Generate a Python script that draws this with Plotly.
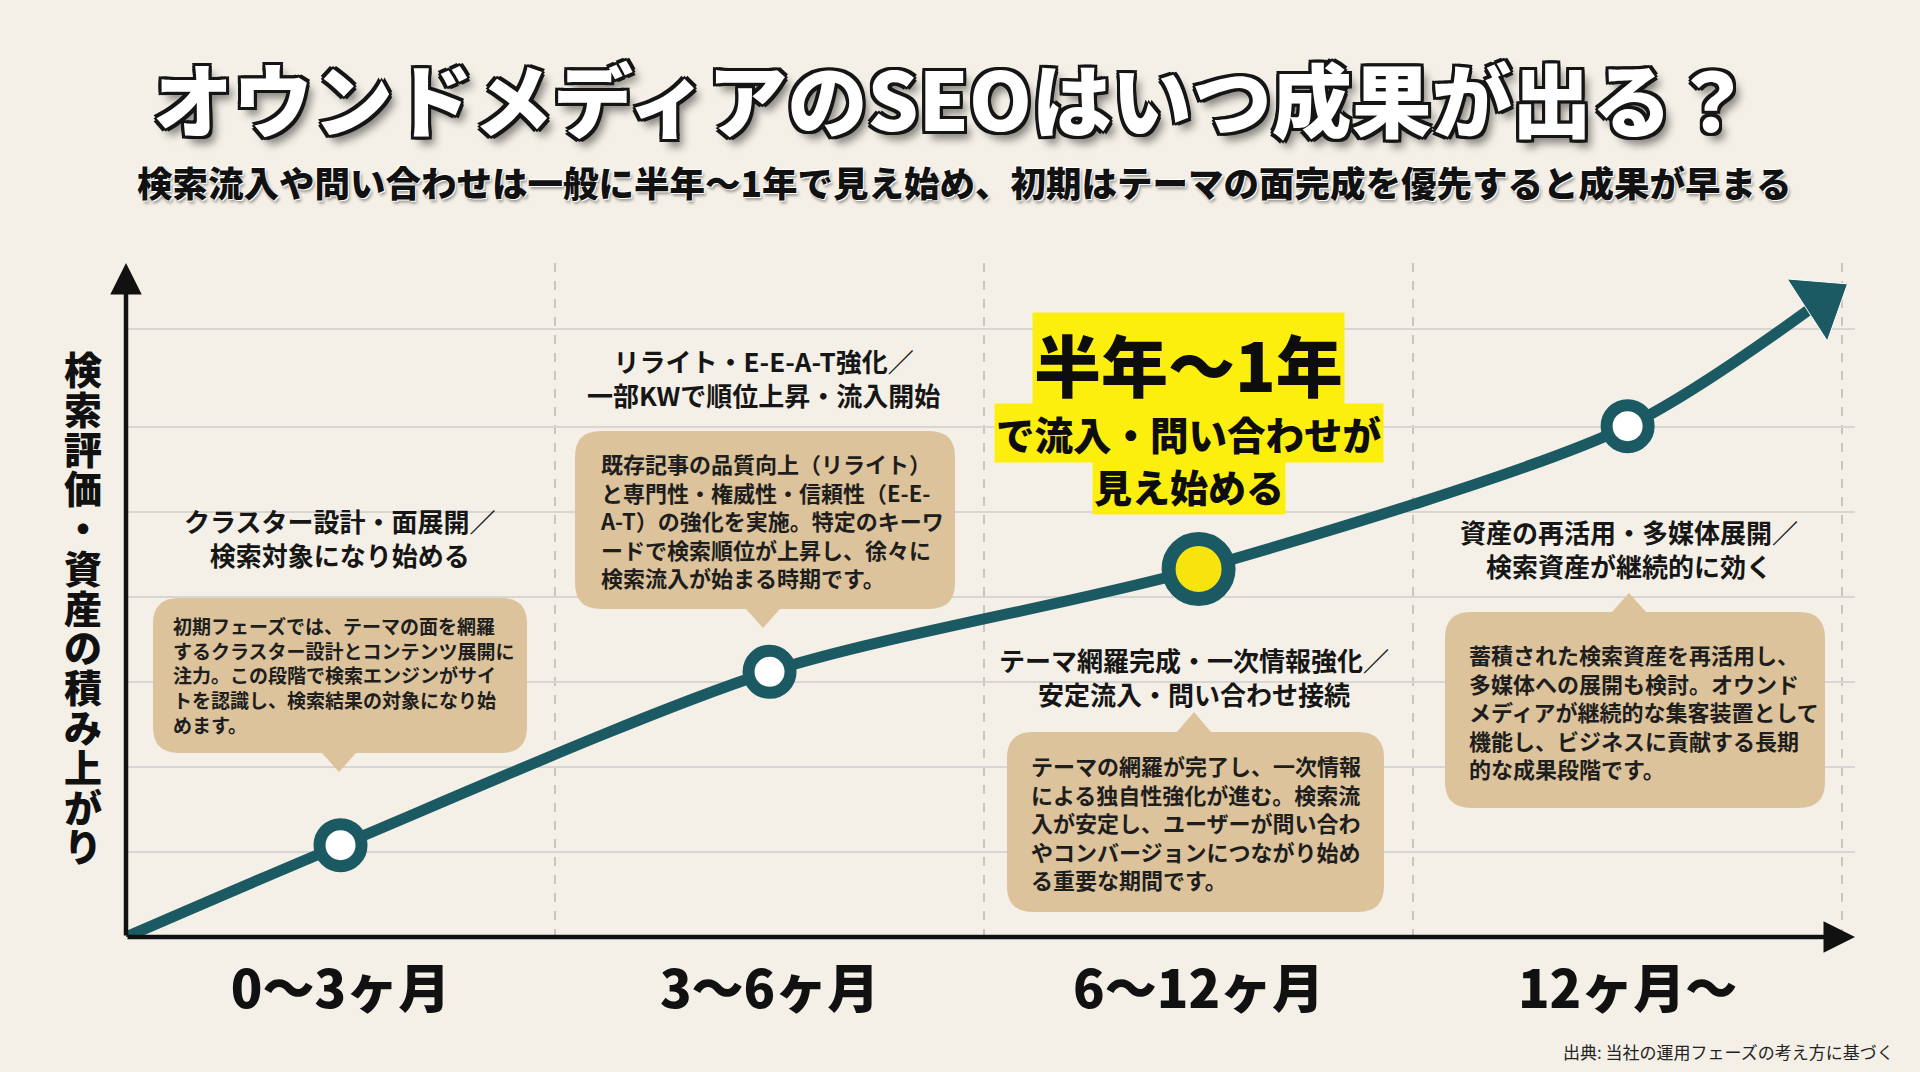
import plotly.graph_objects as go

# ---- data ----
phase_labels = ["0〜3ヶ月", "3〜6ヶ月", "6〜12ヶ月", "12ヶ月〜"]
phase_x = [0.5, 1.5, 2.5, 3.5]
milestone_y = [1.08, 3.12, 4.33, 6.01]
curve_x = [0, 0.5, 1.5, 2.5, 3.5, 3.95]
curve_y = [0, 1.08, 3.12, 4.33, 6.01, 7.48]
highlight_idx = 2

headings = [
    "クラスター設計・面展開／<br>検索対象になり始める",
    "リライト・E-E-A-T強化／<br>一部KWで順位上昇・流入開始",
    "テーマ網羅完成・一次情報強化／<br>安定流入・問い合わせ接続",
    "資産の再活用・多媒体展開／<br>検索資産が継続的に効く",
]
descriptions = [
    "初期フェーズでは、テーマの面を網羅<br>するクラスター設計とコンテンツ展開に<br>注力。この段階で検索エンジンがサイ<br>トを認識し、検索結果の対象になり始<br>めます。",
    "既存記事の品質向上（リライト）<br>と専門性・権威性・信頼性（E-E-<br>A-T）の強化を実施。特定のキーワ<br>ードで検索順位が上昇し、徐々に<br>検索流入が始まる時期です。",
    "テーマの網羅が完了し、一次情報<br>による独自性強化が進む。検索流<br>入が安定し、ユーザーが問い合わ<br>やコンバージョンにつながり始め<br>る重要な期間です。",
    "蓄積された検索資産を再活用し、<br>多媒体への展開も検討。オウンド<br>メディアが継続的な集客装置として<br>機能し、ビジネスに貢献する長期<br>的な成果段階です。",
]
y_title = "検索評価・資産の積み上がり"

W, H = 1920, 1072
FONT = "Noto Sans CJK JP"
TEAL = "#1b5a63"
TAN = "#dcc39b"
BG = "#f4f0e7"


def px(x):
    return x / W


def py(y):
    return 1 - y / H


def P(x, y):
    return "%.5f,%.5f" % (px(x), py(y))


def bubble(x0, y0, x1, y1, tip_x, tip_y, side, r=26, hw=17):
    s = "M" + P(x0 + r, y0)
    if side == "up":
        s += " L" + P(tip_x - hw, y0) + " L" + P(tip_x, tip_y) + " L" + P(tip_x + hw, y0)
    s += " L" + P(x1 - r, y0) + " Q" + P(x1, y0) + " " + P(x1, y0 + r)
    s += " L" + P(x1, y1 - r) + " Q" + P(x1, y1) + " " + P(x1 - r, y1)
    if side == "down":
        s += " L" + P(tip_x + hw, y1) + " L" + P(tip_x, tip_y) + " L" + P(tip_x - hw, y1)
    s += " L" + P(x0 + r, y1) + " Q" + P(x0, y1) + " " + P(x0, y1 - r)
    s += " L" + P(x0, y0 + r) + " Q" + P(x0, y0) + " " + P(x0 + r, y0) + " Z"
    return s


fig = go.Figure()

# growth curve
fig.add_trace(go.Scatter(
    x=curve_x, y=curve_y, mode="lines",
    line=dict(color=TEAL, width=11, shape="spline", smoothing=0.8),
    hoverinfo="skip", showlegend=False))

# arrow head at the end of the curve
fig.add_trace(go.Scatter(
    x=curve_x[-2:], y=curve_y[-2:], mode="markers",
    marker=dict(symbol="triangle-up", size=[0, 64], color=TEAL, angleref="previous", opacity=1),
    hoverinfo="skip", showlegend=False))

# milestone markers
fills = ["#ffffff"] * len(phase_x)
fills[highlight_idx] = "#f7e40f"
sizes = [42] * len(phase_x)
sizes[highlight_idx] = 60
lws = [12] * len(phase_x)
lws[highlight_idx] = 14
fig.add_trace(go.Scatter(
    x=phase_x, y=milestone_y, mode="markers",
    marker=dict(size=sizes, color=fills, opacity=1, line=dict(color=TEAL, width=lws)),
    hoverinfo="skip", showlegend=False))

shapes = []
annotations = []

# callout boxes (pixel positions)
boxes = [
    (153, 598, 527, 753, 339, 772, "down", 171, 675, 19),
    (575, 431, 955, 609, 763, 628, "down", 598, 520, 22),
    (1007, 732, 1384, 912, 1194, 712, "up", 1029, 822, 22),
    (1445, 612, 1825, 808, 1629, 593, "up", 1467, 711, 22),
]
for i, (x0, y0, x1, y1, tx, ty, side, txt_x, txt_y, fs) in enumerate(boxes):
    shapes.append(dict(type="path", xref="paper", yref="paper",
                       path=bubble(x0, y0, x1, y1, tx, ty, side),
                       fillcolor=TAN, line=dict(width=0), layer="above"))
    annotations.append(dict(xref="paper", yref="paper", x=px(txt_x), y=py(txt_y),
                            xanchor="left", yanchor="middle", align="left",
                            text=descriptions[i], showarrow=False,
                            font=dict(family=FONT, size=fs, color="#1e1e1e", weight="bold")))

# phase headings
heading_pos = [(339, 537), (763, 377), (1194, 676), (1629, 548)]
for i, (hx, hy) in enumerate(heading_pos):
    annotations.append(dict(xref="paper", yref="paper", x=px(hx), y=py(hy),
                            xanchor="center", yanchor="middle", align="center",
                            text=headings[i], showarrow=False,
                            font=dict(family=FONT, size=26, color="#161616", weight="bold")))

# highlight text
hl = [("半年〜1年", 1188, 362, 67), ("で流入・問い合わせが", 1189, 433, 38.5), ("見え始める", 1189, 485, 38)]
for t, hx, hy, fs in hl:
    annotations.append(dict(xref="paper", yref="paper", x=px(hx), y=py(hy),
                            xanchor="center", yanchor="middle", text=t, showarrow=False,
                            bgcolor="#fcef0e", borderpad=1,
                            font=dict(family=FONT, size=fs, color="#0d0d0d", weight=900)))

# vertical y-axis title, stacked characters (line spacing from base size, glyphs enlarged)
stacked = "<br>".join('<span style="font-size:38px">%s</span>' % ch for ch in y_title)
annotations.append(dict(xref="paper", yref="paper", x=px(83), y=py(606),
                        xanchor="center", yanchor="middle", align="center",
                        text=stacked, showarrow=False,
                        font=dict(family=FONT, size=30.6, color="#111111", weight=900)))

# axis arrows
annotations.append(dict(x=4.03, y=0, ax=0, ay=0, xref="x", yref="y", axref="x", ayref="y",
                        text="", showarrow=True, arrowhead=2, arrowsize=1.4, arrowwidth=4.5,
                        arrowcolor="#111111", standoff=0, startstandoff=0))
annotations.append(dict(x=0, y=7.93, ax=0, ay=0, xref="x", yref="y", axref="x", ayref="y",
                        text="", showarrow=True, arrowhead=2, arrowsize=1.4, arrowwidth=4.5,
                        arrowcolor="#111111", standoff=0, startstandoff=0))

# title / subtitle / source
annotations.append(dict(xref="paper", yref="paper", x=px(952), y=py(96), xanchor="center", yanchor="middle",
                        text="オウンドメディアのSEOはいつ成果が出る？", showarrow=False,
                        font=dict(family=FONT, size=80, color="#ffffff", weight=900,
                                  shadow="3px 3px 0 #151515, -3px -3px 0 #151515, 3px -3px 0 #151515, "
                                         "-3px 3px 0 #151515, 0 3px 0 #151515, 3px 0 0 #151515, "
                                         "0 -3px 0 #151515, -3px 0 0 #151515, 6px 8px 8px rgba(0,0,0,0.45)")))
annotations.append(dict(xref="paper", yref="paper", x=px(964), y=py(181), xanchor="center", yanchor="middle",
                        text="検索流入や問い合わせは一般に半年〜1年で見え始め、初期はテーマの面完成を優先すると成果が早まる",
                        showarrow=False,
                        font=dict(family=FONT, size=35.5, color="#111111", weight=900,
                                  shadow="1px 1px 0 #ffffff, -1px -1px 0 #ffffff, 2px 3px 3px rgba(0,0,0,0.35)")))
annotations.append(dict(xref="paper", yref="paper", x=px(1896), y=py(1051), xanchor="right", yanchor="middle",
                        text="出典: 当社の運用フェーズの考え方に基づく", showarrow=False,
                        font=dict(family=FONT, size=17, color="#222222")))

fig.update_layout(
    width=W, height=H,
    margin=dict(l=0, r=0, t=0, b=0),
    paper_bgcolor=BG, plot_bgcolor=BG,
    showlegend=False,
    shapes=shapes,
    annotations=annotations,
    xaxis=dict(domain=[px(126), px(1855)], range=[0, 4.03], showline=False, zeroline=False,
               showgrid=False, tickvals=phase_x, ticktext=phase_labels, ticks="",
               ticklabelstandoff=18,
               tickfont=dict(family=FONT, size=52, color="#111111", weight=900),
               minor=dict(tickvals=[1, 2, 3, 4], showgrid=True, gridcolor="#c9c6c0",
                          griddash="dash", gridwidth=2, ticks=""),
               fixedrange=True),
    yaxis=dict(domain=[py(937), py(263)], range=[0, 7.93], showline=False, zeroline=False,
               showgrid=True, gridcolor="#d8d6d2", gridwidth=2,
               tickvals=[1, 2, 3, 4, 5, 6, 7.15], showticklabels=False, ticks="",
               fixedrange=True),
)

fig.write_html("out.html", config={"displayModeBar": False},
               post_script="document.body.style.margin='0';document.body.style.overflow='hidden';")
